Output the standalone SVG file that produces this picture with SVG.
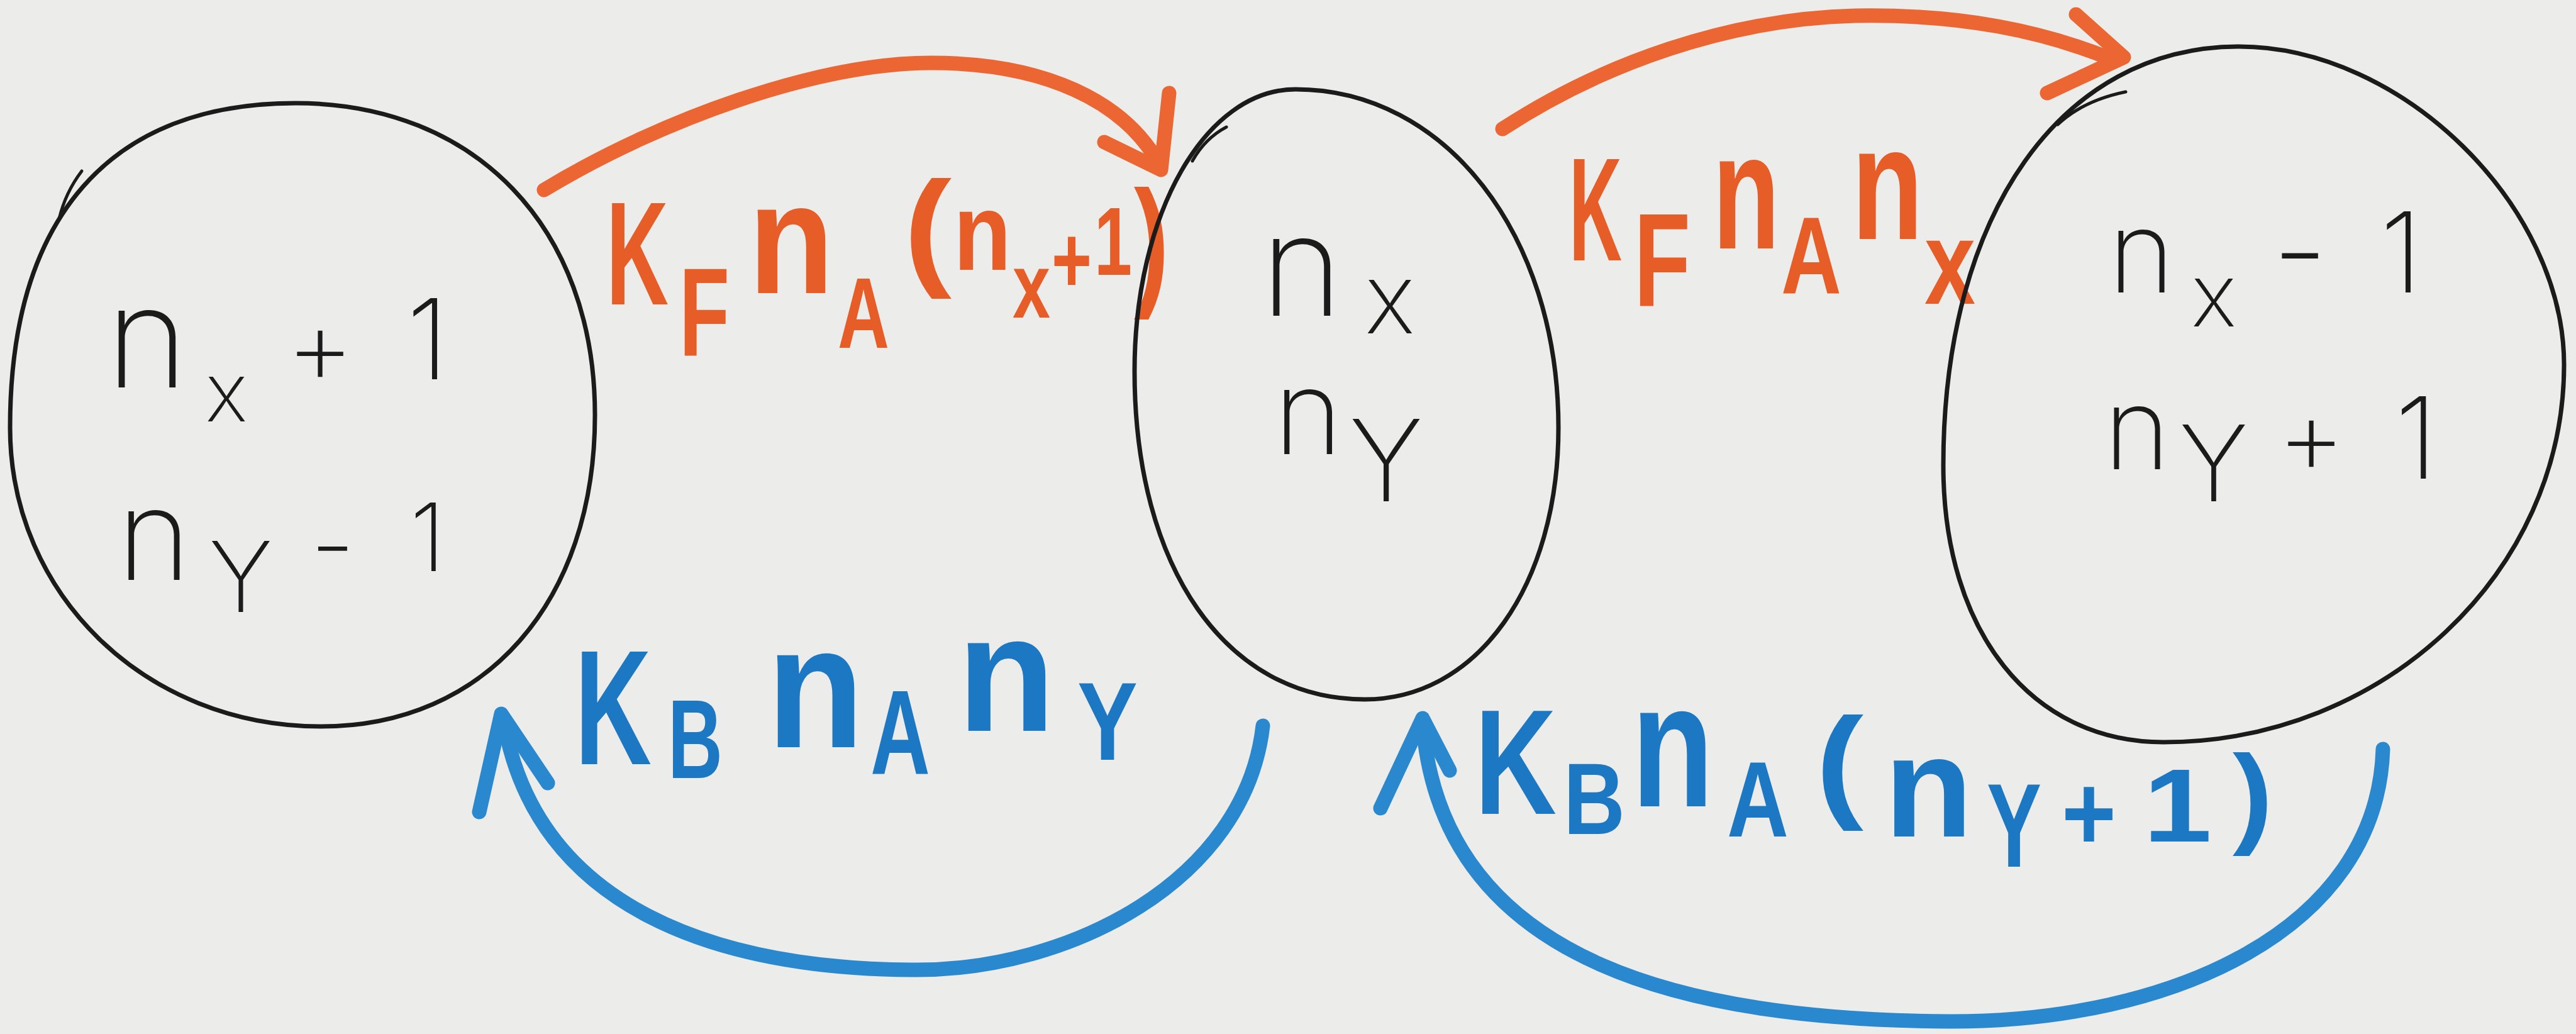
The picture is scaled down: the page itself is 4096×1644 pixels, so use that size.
<svg xmlns="http://www.w3.org/2000/svg" width="4096" height="1644" viewBox="0 0 4096 1644">
<style>
.node{fill:none;stroke:#1b1b1b;stroke-width:7;stroke-linecap:round;stroke-linejoin:round}
.hook{fill:none;stroke:#1b1b1b;stroke-width:5;stroke-linecap:round}
.ink{font-family:Inter,"Noto Sans","Liberation Sans",sans-serif;font-weight:200;fill:#1b1b1b}
.mk{font-family:"Liberation Sans",Arial,sans-serif;font-weight:700}
.or{fill:#E65D28}
.bl{fill:#1D78C4}
.arr{fill:none;stroke-linecap:round;stroke-linejoin:round;stroke-width:23}
.ao{stroke:#EB6633}
.ab{stroke:#2A88CE}
</style>
<rect width="4096" height="1644" fill="#ECEDEA"/>

<g id="connectors">
<path class="arr ao" d="M865,302 C1050,190 1300,100 1480,100 C1660,100 1790,160 1846,266"/>
<path class="arr ao" d="M1859,148 L1846,270 L1756,226"/>
<path class="arr ao" d="M2389,205 C2550,100 2750,30 2950,25 C3120,22 3250,50 3360,95"/>
<path class="arr ao" d="M3301,23 L3377,91 L3255,148"/>
<path class="arr ab" d="M2008,1154 C1980,1400 1700,1545 1450,1542 C1150,1540 850,1450 800,1140"/>
<path class="arr ab" d="M762,1291 L797,1135 L871,1245"/>
<path class="arr ab" d="M3789,1191 C3780,1480 3450,1625 3100,1624 C2700,1622 2290,1540 2262,1146"/>
<path class="arr ab" d="M2195,1285 L2262,1142 L2305,1225"/>
</g>

<g id="labels">
<text id="label-kf1" class="mk or" transform="scale(0.6,1)"><tspan x="1606.7" y="484" font-size="233" textLength="165" lengthAdjust="spacingAndGlyphs">K</tspan><tspan x="1800" y="566" font-size="200" textLength="133.3" lengthAdjust="spacingAndGlyphs">F</tspan><tspan x="1983.3" y="466" font-size="250" textLength="226.7" lengthAdjust="spacingAndGlyphs">n</tspan><tspan x="2220" y="553" font-size="160" textLength="136.7" lengthAdjust="spacingAndGlyphs">A</tspan><tspan x="2395" y="432" font-size="206" textLength="126.7" lengthAdjust="spacingAndGlyphs">(</tspan><tspan x="2526.7" y="429" font-size="175" textLength="153.3" lengthAdjust="spacingAndGlyphs">n</tspan><tspan x="2683.3" y="505" font-size="146" textLength="100" lengthAdjust="spacingAndGlyphs">x</tspan><tspan x="2786.7" y="465" font-size="150" textLength="106.7" lengthAdjust="spacingAndGlyphs">+</tspan><tspan x="2900" y="437" font-size="154" textLength="100" lengthAdjust="spacingAndGlyphs">1</tspan><tspan x="3005" y="461" font-size="227" textLength="93.3" lengthAdjust="spacingAndGlyphs">)</tspan></text>
<text id="label-kf2" class="mk or" transform="scale(0.6,1)"><tspan x="4158.3" y="414" font-size="233" textLength="140" lengthAdjust="spacingAndGlyphs">K</tspan><tspan x="4330" y="486" font-size="212" textLength="150" lengthAdjust="spacingAndGlyphs">F</tspan><tspan x="4538.3" y="395" font-size="262" textLength="178.3" lengthAdjust="spacingAndGlyphs">n</tspan><tspan x="4720" y="467" font-size="175" textLength="160" lengthAdjust="spacingAndGlyphs">A</tspan><tspan x="4906.7" y="380" font-size="256" textLength="190" lengthAdjust="spacingAndGlyphs">n</tspan><tspan x="5100" y="483" font-size="190" textLength="135" lengthAdjust="spacingAndGlyphs">x</tspan></text>
<text id="label-kb1" class="mk bl" transform="scale(0.6,1)"><tspan x="1523.3" y="1215" font-size="260" textLength="203.3" lengthAdjust="spacingAndGlyphs">K</tspan><tspan x="1770" y="1237" font-size="179" textLength="145" lengthAdjust="spacingAndGlyphs">B</tspan><tspan x="2031.7" y="1188" font-size="277" textLength="258.3" lengthAdjust="spacingAndGlyphs">n</tspan><tspan x="2306.7" y="1231" font-size="191" textLength="158.3" lengthAdjust="spacingAndGlyphs">A</tspan><tspan x="2536.7" y="1162" font-size="264" textLength="260" lengthAdjust="spacingAndGlyphs">n</tspan><tspan x="2855" y="1208" font-size="176" textLength="160" lengthAdjust="spacingAndGlyphs">Y</tspan></text>
<text id="label-kb2" class="mk bl" transform="scale(0.6,1)"><tspan x="3908.3" y="1294" font-size="237" textLength="216.7" lengthAdjust="spacingAndGlyphs">K</tspan><tspan x="4143.3" y="1326" font-size="161" textLength="163.3" lengthAdjust="spacingAndGlyphs">B</tspan><tspan x="4323.3" y="1282" font-size="281" textLength="218.3" lengthAdjust="spacingAndGlyphs">n</tspan><tspan x="4576.7" y="1330" font-size="170" textLength="163.3" lengthAdjust="spacingAndGlyphs">A</tspan><tspan x="4811.7" y="1280" font-size="198" textLength="126.7" lengthAdjust="spacingAndGlyphs">(</tspan><tspan x="4993.3" y="1330" font-size="229" textLength="235" lengthAdjust="spacingAndGlyphs">n</tspan><tspan x="5265" y="1378" font-size="189" textLength="145" lengthAdjust="spacingAndGlyphs">Y</tspan><tspan x="5463.3" y="1351" font-size="170" textLength="145" lengthAdjust="spacingAndGlyphs">+</tspan><tspan x="5680" y="1338" font-size="165" textLength="181.7" lengthAdjust="spacingAndGlyphs">1</tspan><tspan x="5916.7" y="1324" font-size="176" textLength="106.7" lengthAdjust="spacingAndGlyphs">)</tspan></text>
</g>

<g id="node-left">
<path class="node" d="M470,164 C756,164 946,362 946,660 C946,957 772,1155 510,1155 C233,1155 16,946 16,680 C16,345 175,164 470,164Z"/>
<path class="hook" d="M94,348 Q104,306 130,272"/>
<text class="ink" text-anchor="middle"><tspan x="234" y="616" font-size="223">n</tspan><tspan x="360" y="670" font-size="130">x</tspan><tspan x="509" y="611" font-size="170">+</tspan><tspan x="680" y="603" font-size="177">1</tspan></text>
<text class="ink" text-anchor="middle"><tspan x="245" y="922" font-size="200">n</tspan><tspan x="383" y="973" font-size="155">Y</tspan><tspan x="529" y="922" font-size="160">-</tspan><tspan x="680" y="908" font-size="150">1</tspan></text>
</g>

<g id="node-middle">
<path class="node" d="M2060,142 C2298,142 2478,373 2478,680 C2478,931 2349,1112 2170,1112 C1950,1112 1804,903 1804,590 C1804,339 1917,142 2060,142Z"/>
<path class="hook" d="M1896,256 Q1916,220 1950,202"/>
<text class="ink" text-anchor="middle"><tspan x="2070" y="502" font-size="223">n</tspan><tspan x="2210" y="530" font-size="155">x</tspan></text>
<text class="ink" text-anchor="middle"><tspan x="2080" y="722" font-size="187">n</tspan><tspan x="2204" y="797" font-size="180">Y</tspan></text>
</g>

<g id="node-right">
<path class="node" d="M3560,74 C3819,74 4077,327 4077,580 C4077,910 3790,1180 3440,1180 C3230,1180 3090,1004 3090,740 C3090,340 3278,74 3560,74Z"/>
<path class="hook" d="M3272,198 Q3312,160 3380,146"/>
<text class="ink" text-anchor="middle"><tspan x="3405" y="465" font-size="180">n</tspan><tspan x="3520" y="519" font-size="140">x</tspan><tspan x="3657" y="469" font-size="200">-</tspan><tspan x="3818" y="465" font-size="177">1</tspan></text>
<text class="ink" text-anchor="middle"><tspan x="3398" y="746" font-size="180">n</tspan><tspan x="3520" y="797" font-size="168">Y</tspan><tspan x="3675" y="754" font-size="170">+</tspan><tspan x="3842" y="761" font-size="180">1</tspan></text>
</g>
</svg>
